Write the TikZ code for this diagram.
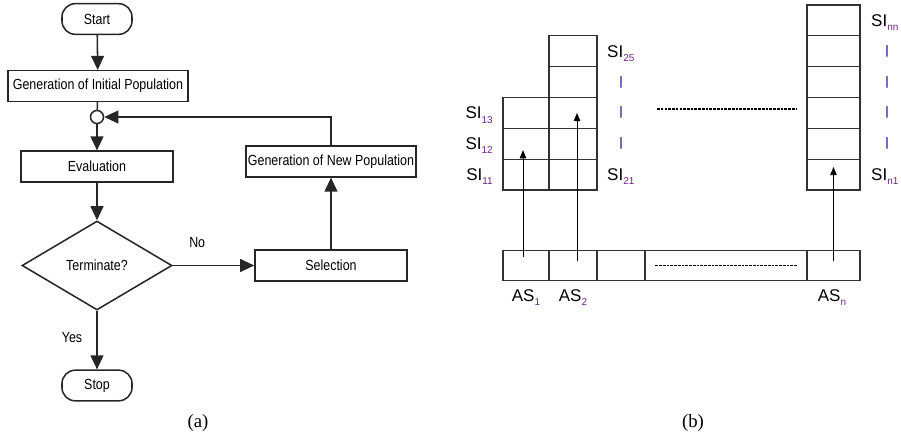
\documentclass[tikz,border=0pt]{standalone}
\usepackage{fontspec}
\setmainfont{Liberation Sans}
\newfontfamily\flowfont{Liberation Sans}[FakeStretch=0.85]
\newfontfamily\capfont{Liberation Serif}
\usepackage{xcolor}
\usetikzlibrary{arrows.meta}
\usetikzlibrary{shapes.geometric}
\definecolor{subpurple}{RGB}{110,35,135}
\definecolor{barblue}{RGB}{85,70,160}
\newcommand{\sidx}[1]{\raisebox{-3.5pt}{\fontsize{8.5}{8.5}\selectfont\color{subpurple}#1}}

\begin{document}
\begin{tikzpicture}[x=0.3mm, y=-0.3mm, >={Triangle[length=12pt,width=11pt]},
	procbox/.style={draw=black!85, line width=1.3pt, minimum height=9.2mm, inner sep=0pt, font=\flowfont\fontsize{12.5}{14}\selectfont},
	startstop/.style={procbox, minimum width=21mm, rounded corners=4mm},
	decide/.style={procbox, diamond, minimum width=45mm, minimum height=26.7mm},
	flow/.style={->, draw=black!85, line width=1.3pt},
	edgelbl/.style={font=\flowfont\fontsize{12.5}{14}\selectfont, inner sep=0pt},
	cellbox/.style={draw=black!80, line width=0.9pt, minimum height=9.25mm, inner sep=0pt},
	cellarr/.style={-{Triangle[length=7pt,width=5.5pt]}, line width=0.8pt},
	silbl/.style={font=\fontsize{14.5}{16}\selectfont, inner sep=0pt},
	vbar/.style={font=\bfseries\fontsize{10.5}{10.5}\selectfont, text=barblue, inner sep=0pt},
	dotline/.style={line width=0.9pt, dash pattern=on 2.2pt off 1pt}]
	\useasboundingbox (0,0) rectangle (901,437);

	% (a) flow chart
	\node[startstop] (start) at (97,19) {Start};
	\node[procbox, minimum width=54mm] (initpop) at (98,86) {Generation of Initial Population};
	\node[draw=black!85, circle, line width=1.3pt, minimum size=3.9mm, inner sep=0pt] (junc) at (97,117) {};
	\node[procbox, minimum width=45.6mm] (eval) at (97,166.5) {Evaluation};
	\node[decide] (test) at (97,265.5) {Terminate?};
	\node[procbox, minimum width=45.6mm] (select) at (331,265.5) {Selection};
	\node[procbox, minimum width=51mm] (newpop) at (331,161.5) {Generation of New Population};
	\node[startstop] (stop) at (97,385.5) {Stop};

	\draw[flow] (start) -- (initpop);
	\draw[draw=black!85, line width=1.3pt] (initpop) -- (junc);
	\draw[flow] (junc) -- (eval);
	\draw[flow] (eval) -- (test);
	\draw[flow] (test) -- node[edgelbl, pos=0.45, xshift=-7.5mm] {Yes} (stop);
	\draw[flow] (test) -- node[edgelbl, pos=0.3, yshift=6.9mm] {No} (select);
	\draw[flow] (select) -- (newpop);
	\draw[flow] (newpop) |- (junc);

	% (b) cells
	\foreach \r/\y in {1/174.6,2/143.75,3/112.9}
		\node[cellbox, minimum width=13.8mm] (s1\r) at (526,\y) {};
	\foreach \r/\y in {1/174.6,2/143.75,3/112.9,4/82.1,5/51.25}
		\node[cellbox, minimum width=14.4mm] (s2\r) at (573,\y) {};
	\foreach \r/\y in {1/174.6,2/143.75,3/112.9,4/82.1,5/51.25,6/20.4}
		\node[cellbox, minimum width=15.9mm] (sn\r) at (833.5,\y) {};

	\node[cellbox, minimum width=13.8mm] (as1) at (526,265.5) {};
	\node[cellbox, minimum width=14.4mm] (as2) at (573,265.5) {};
	\node[cellbox, minimum width=14.4mm] (as3) at (621,265.5) {};
	\node[cellbox, minimum width=48.6mm] (asgap) at (726,265.5) {};
	\node[cellbox, minimum width=15.9mm] (asn) at (833.5,265.5) {};

	\draw[dotline] ([xshift=3.3mm]asgap.west) -- ([xshift=-3.3mm]asgap.east);
	\draw[dotline] (657,109) -- (796,109);

	\draw[cellarr] ([xshift=-0.9mm, yshift=2.5mm]as1.center) -- ([xshift=-0.9mm, yshift=-1.9mm]s12.center);
	\draw[cellarr] ([xshift=1.2mm, yshift=1.35mm]as2.center) -- ([xshift=1.2mm]s23.center);
	\draw[cellarr] ([yshift=1.35mm]asn.center) -- ([yshift=2.3mm]sn1.center);

	% labels
	\node[silbl, anchor=base east] (l13) at (493,118.9) {SI\sidx{13}};
	\node[silbl, anchor=base east] (l12) at (493,149.75) {SI\sidx{12}};
	\node[silbl, anchor=base east] (l11) at (493,180.6) {SI\sidx{11}};
	\node[silbl, anchor=base west] (l25) at (607,57.25) {SI\sidx{25}};
	\node[silbl, anchor=base west] (l21) at (607,180.6) {SI\sidx{21}};
	\node[silbl, anchor=base west] (lnn) at (871,26.4) {SI\sidx{nn}};
	\node[silbl, anchor=base west] (ln1) at (871,180.6) {SI\sidx{n1}};
	\foreach \y in {82.1,112.9,143.75}
		\node[vbar] at (621,\y) {|};
	\foreach \y in {51.25,82.1,112.9,143.75}
		\node[vbar] at (887,\y) {|};
	\node[silbl, anchor=base] (las1) at (526,301) {AS\sidx{1}};
	\node[silbl, anchor=base] (las2) at (573,301) {AS\sidx{2}};
	\node[silbl, anchor=base] (lasn) at (832,301) {AS\sidx{n}};

	\node[font=\capfont\fontsize{16}{18}\selectfont] (capa) at (198,423) {(a)};
	\node[font=\capfont\fontsize{16}{18}\selectfont] (capb) at (693,423) {(b)};
\end{tikzpicture}
\end{document}
